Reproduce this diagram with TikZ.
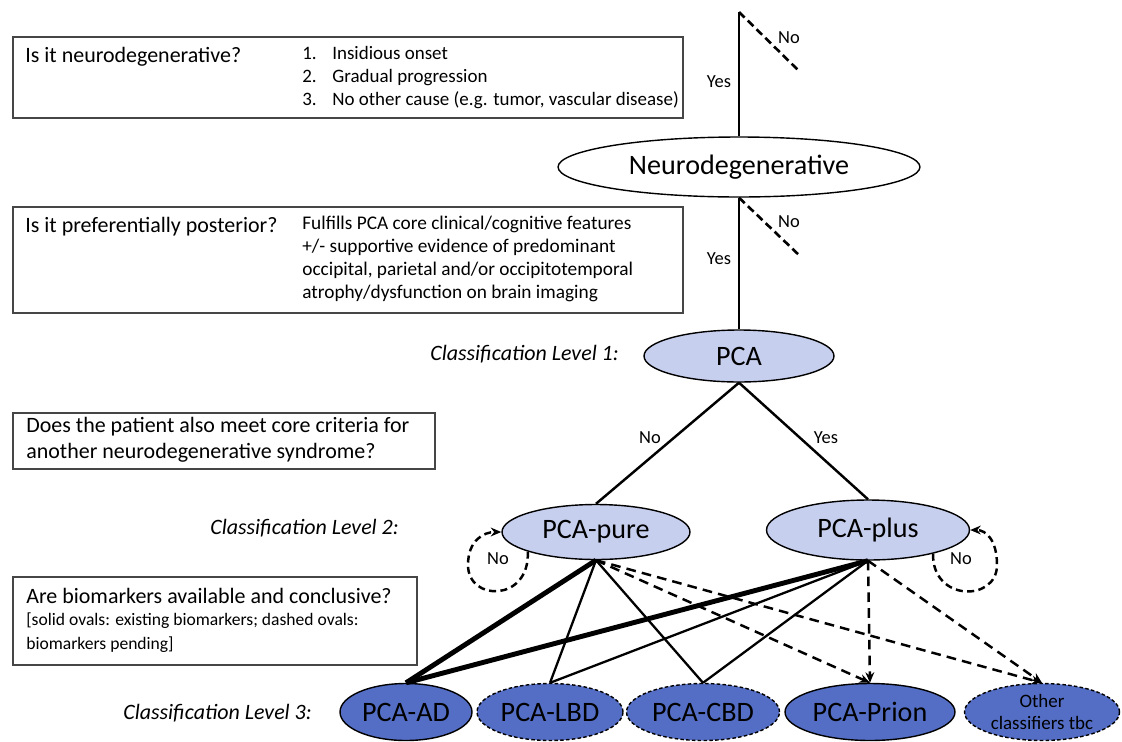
\documentclass[tikz,border=0pt]{standalone}
\usepackage{fontspec}
\setmainfont{Carlito}
\usetikzlibrary{shapes.geometric,arrows.meta}

\definecolor{pcalight}{RGB}{198,207,237}
\definecolor{pcadark}{RGB}{84,110,198}
\definecolor{boxgray}{RGB}{70,70,70}

\tikzset{
  qbox/.style={draw=boxgray,line width=0.9pt},
  oval/.style={ellipse,draw,line width=0.8pt,inner sep=0pt,
    font=\fontsize{16}{19}\selectfont},
  lvl1/.style={oval,fill=pcalight},
  lvl3/.style={oval,fill=pcadark},
  pending/.style={lvl3,dash pattern=on 2pt off 1.3pt},
  lbl/.style={font=\fontsize{10.5}{12}\selectfont,inner sep=1pt},
  levlbl/.style={anchor=east,font=\fontsize{12.5}{15}\selectfont\itshape},
  branch/.style={line width=1.4pt},
  nobranch/.style={line width=1.5pt,dash pattern=on 4.5pt off 2.5pt},
  strong/.style={line width=2.8pt},
  weak/.style={line width=1.3pt},
  maybe/.style={line width=1.4pt,dash pattern=on 5.5pt off 3.5pt,-{Stealth[length=6pt,width=5pt]}},
  selfloop/.style={line width=1.4pt,dash pattern=on 4pt off 2.5pt,-{Stealth[length=6pt,width=5pt]}}
}

\begin{document}
\begin{tikzpicture}[x=0.02cm,y=-0.02cm]
  \useasboundingbox (0,0) rectangle (1122,741);

  % question boxes on the left
  \draw[qbox] (13,37) rectangle (683,118);
  \node[anchor=west,font=\fontsize{12.5}{15}\selectfont,inner sep=0pt] (q1) at (25,57) {Is it neurodegenerative?};
  \node[anchor=west,align=left,font=\fontsize{10.8}{13.1}\selectfont,inner sep=0pt] (q1crit) at (302,78)
    {\makebox[0.6cm][l]{1.}Insidious onset\\ \makebox[0.6cm][l]{2.}Gradual progression\\ \makebox[0.6cm][l]{3.}No other cause (e.g. tumor, vascular disease)};

  \draw[qbox] (13,207) rectangle (683,313);
  \node[anchor=west,font=\fontsize{12.5}{15}\selectfont,inner sep=0pt] (q2) at (25,227) {Is it preferentially posterior?};
  \node[anchor=west,align=left,font=\fontsize{11}{13.1}\selectfont,inner sep=0pt] (q2crit) at (302,259)
    {Fulfills PCA core clinical/cognitive features\\ +/- supportive evidence of predominant\\ occipital, parietal and/or occipitotemporal\\ atrophy/dysfunction on brain imaging};

  \draw[qbox] (13,413) rectangle (435,469);
  \node[anchor=west,align=left,font=\fontsize{12.5}{14.8}\selectfont,inner sep=0pt] (q3) at (26,440)
    {Does the patient also meet core criteria for\\ another neurodegenerative syndrome?};

  \draw[qbox] (13,577) rectangle (417,665);
  \node[anchor=west,font=\fontsize{12.5}{15}\selectfont,inner sep=0pt] (q4) at (26,596) {Are biomarkers available and conclusive?};
  \node[anchor=west,align=left,font=\fontsize{10}{13.7}\selectfont,inner sep=0pt] (q4note) at (26,633)
    {[solid ovals: existing biomarkers; dashed ovals:\\ biomarkers pending]};

  % classification levels
  \node[levlbl] (lev1) at (625,354) {Classification Level 1:};
  \node[levlbl] (lev2) at (405,528) {Classification Level 2:};
  \node[levlbl] (lev3) at (318,713) {Classification Level 3:};

  % ovals
  \node[oval,fill=white,minimum width=7.24cm,minimum height=1.2cm] (neuro) at (739,167) {Neurodegenerative};
  \node[lvl1,minimum width=3.8cm,minimum height=1.04cm] (pca) at (739,356) {PCA};
  \node[lvl1,minimum width=3.76cm,minimum height=1.1cm] (pure) at (596,532) {PCA-pure};
  \node[lvl1,minimum width=4.06cm,minimum height=1.2cm] (plus) at (868,530) {PCA-plus};
  \node[lvl3,minimum width=2.64cm,minimum height=1.14cm] (ad) at (406,712) {PCA-AD};
  \node[pending,minimum width=2.92cm,minimum height=1.14cm] (lbd) at (550,712) {PCA-LBD};
  \node[pending,minimum width=3.06cm,minimum height=1.14cm] (cbd) at (703,712) {PCA-CBD};
  \node[lvl3,minimum width=3.4cm,minimum height=1.14cm] (prion) at (870,712) {PCA-Prion};
  \node[pending,minimum width=3.1cm,minimum height=1.14cm,align=center,
    font=\fontsize{10.8}{13}\selectfont] (other) at (1042,712) {Other\\ classifiers tbc};

  % yes/no decisions at the top
  \coordinate (start) at (739,12);
  \coordinate (stop1) at (800,72);
  \coordinate (stop2) at (800,256);
  \draw[branch] (start) -- (neuro.north);
  \draw[nobranch] (start) -- (stop1);
  \node[lbl] (no1) at (789,38) {No};
  \node[lbl] (yes1) at (719,82) {Yes};
  \draw[branch] (neuro.south) -- (pca.north);
  \draw[nobranch] (neuro.south) -- (stop2);
  \node[lbl] (no2) at (789,222) {No};
  \node[lbl] (yes2) at (719,259) {Yes};

  % level 1 -> level 2
  \draw[branch] (pca.south) -- (pure.north);
  \draw[branch] (pca.south) -- (plus.north);
  \node[lbl] (no3) at (650,438) {No};
  \node[lbl] (yes3) at (826,438) {Yes};

  % loops back
  \draw[selfloop] (pure.196) .. controls (530,602) and (468,602) .. (468,565)
    .. controls (468,540) and (484,532) .. (pure.west);
  \node[lbl] (no4) at (498,559) {No};
  \draw[selfloop] (plus.-20) .. controls (932,602) and (997,602) .. (997,565)
    .. controls (997,540) and (986,530) .. (plus.east);
  \node[lbl] (no5) at (961,559) {No};

  % level 2 -> level 3
  \draw[strong] (pure.south) -- (ad.north);
  \draw[strong] (plus.south) -- (ad.north);
  \draw[weak] (pure.south) -- (lbd.north);
  \draw[weak] (pure.south) -- (cbd.north);
  \draw[weak] (plus.south) -- (lbd.north);
  \draw[weak] (plus.south) -- (cbd.north);
  \draw[maybe] (pure.south) -- (prion.north);
  \draw[maybe] (pure.south) -- (other.north);
  \draw[maybe] (plus.south) -- (prion.north);
  \draw[maybe] (plus.south) -- (other.north);
\end{tikzpicture}
\end{document}
